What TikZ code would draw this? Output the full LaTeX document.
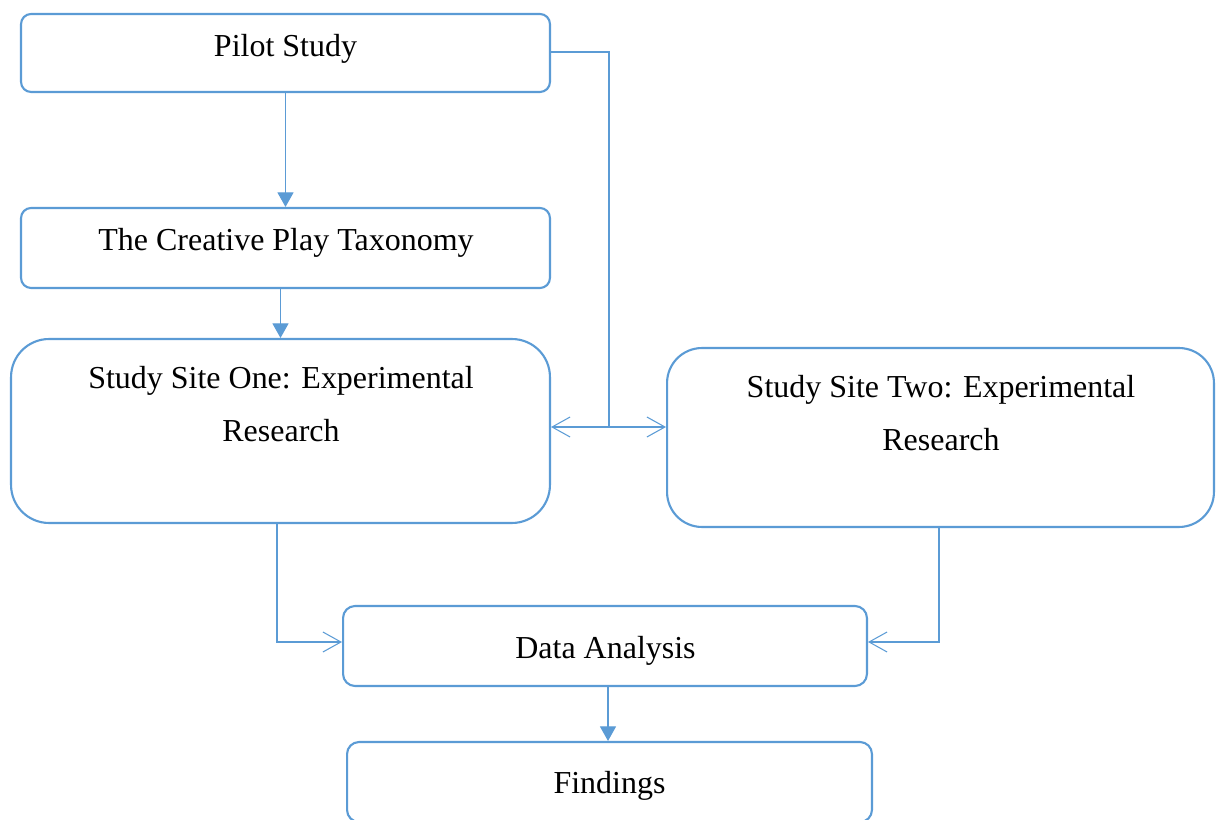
\documentclass[tikz,border=0pt]{standalone}
\usepackage{fontspec}
\setmainfont{Liberation Serif}
\usetikzlibrary{arrows.meta}
\definecolor{flowblue}{HTML}{5B9BD5}
\begin{document}
\begin{tikzpicture}[x=0.02cm,y=-0.02cm,
  box/.style={draw=flowblue, line width=1.2pt, rectangle, inner sep=0pt},
  label/.style={inner sep=0pt, anchor=base, font=\fontsize{18.2}{30.6}\selectfont, align=center},
  link/.style={draw=flowblue, line width=0.6pt},
  solidtip/.style={link, -{Triangle[length=0.29cm, width=0.32cm]}},
  barbtip/.style={link, -{Straight Barb[length=0.36cm, width=0.4cm]}},
  barbboth/.style={link, {Straight Barb[length=0.36cm, width=0.4cm]}-{Straight Barb[length=0.36cm, width=0.4cm]}}]
\useasboundingbox (0,0) rectangle (1220,820);

% boxes
\node[box, minimum width=10.58cm, minimum height=1.56cm, rounded corners=0.2cm] (pilot) at (285.5,53) {};
\node[box, minimum width=10.58cm, minimum height=1.6cm, rounded corners=0.2cm] (taxo) at (285.5,248) {};
\node[box, minimum width=10.78cm, minimum height=3.68cm, rounded corners=0.76cm] (one) at (280.5,431) {};
\node[box, minimum width=10.94cm, minimum height=3.58cm, rounded corners=0.7cm] (two) at (940.5,437.5) {};
\node[box, minimum width=10.48cm, minimum height=1.6cm, rounded corners=0.24cm] (data) at (605,646) {};
\node[box, minimum width=10.5cm, minimum height=1.6cm, rounded corners=0.24cm] (find) at (609.5,782) {};

% texts (two-line labels are anchored on the baseline of their last line)
\node[label] (tpilot) at (285.5,57) {Pilot Study};
\node[label] (ttaxo) at (286,251) {The Creative Play Taxonomy};
\node[label] (tone) at (281,442) {Study Site One: Experimental\\Research};
\node[label] (ttwo) at (941,451) {Study Site Two: Experimental\\Research};
\node[label] (tdata) at (605.5,658) {Data Analysis};
\node[label] (tfind) at (609.5,793) {Findings};

% junction and bend points
\coordinate (jt) at (609,52);
\coordinate (jb) at (609,427);
\coordinate (lb) at (277,642);
\coordinate (rb) at (939,642);
\coordinate (fx) at (608,700);

% connectors
\draw[solidtip] (pilot.south) -- (taxo.north);
\draw[solidtip] (one.north |- taxo.south) -- (one.north);
\draw[link] (pilot.east |- jt) -- (jt) -- (jb);
\draw[barbboth] (one.east |- jb) -- (two.west |- jb);
\draw[barbtip] (one.south -| lb) -- (lb) -- (data.west |- lb);
\draw[barbtip] (two.south -| rb) -- (rb) -- (data.east |- rb);
\draw[solidtip] (data.south -| fx) -- (find.north -| fx);
\end{tikzpicture}
\end{document}
